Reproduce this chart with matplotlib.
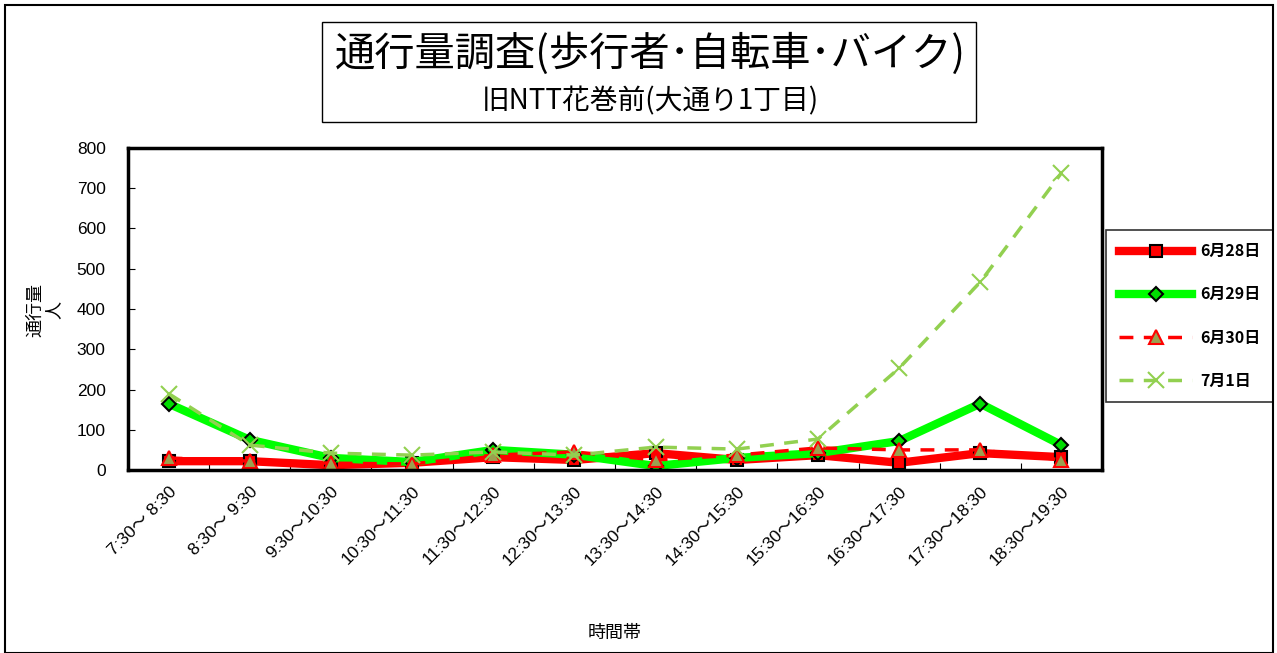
import numpy as np
import matplotlib.pyplot as plt
from matplotlib.patches import Rectangle

plt.rcParams['font.family'] = ['Noto Sans CJK JP', 'DejaVu Sans']
num_font = ['Liberation Sans', 'Noto Sans CJK JP']

# 時間帯
jikan = ['7:30～ 8:30', '8:30～ 9:30', '9:30～10:30', '10:30～11:30',
         '11:30～12:30', '12:30～13:30', '13:30～14:30', '14:30～15:30',
         '15:30～16:30', '16:30～17:30', '17:30～18:30', '18:30～19:30']

# 通行量 (人)
d0628 = [22, 22, 12, 18, 32, 25, 42, 25, 37, 18, 42, 32]
d0629 = [165, 75, 30, 20, 50, 38, 10, 30, 42, 72, 165, 62]
d0630 = [30, 22, 17, 15, 37, 45, 25, 37, 55, 50, 50, 25]
d0701 = [190, 62, 42, 37, 45, 37, 57, 52, 77, 253, 467, 738]

fig = plt.figure(figsize=(12.77, 6.53), dpi=100)
ax = fig.add_axes([0.1002, 0.2802, 0.7628, 0.4932])

x = np.arange(len(jikan))

ax.plot(x, d0628, color='red', lw=6, marker='s', ms=9,
        mfc='red', mec='black', mew=1.5, label='6月28日')
ax.plot(x, d0629, color='#00FF00', lw=6, marker='D', ms=7,
        mfc='#00DD00', mec='black', mew=1.5, label='6月29日')
ax.plot(x, d0630, color='red', lw=2.5, ls=(0, (4, 3)), marker='^', ms=10,
        mfc='#9BA050', mec='red', mew=1.5, label='6月30日')
ax.plot(x, d0701, color='#92D050', lw=2.5, ls=(0, (4, 3)), marker='x', ms=11,
        mew=1.5, label='7月1日')

ax.set_xlim(-0.5, len(jikan) - 0.5)
ax.set_ylim(0, 800)
ax.set_yticks(range(0, 801, 100))
ax.tick_params(axis='y', direction='in', length=5, pad=16)
for t in ax.get_yticklabels():
    t.set_family(num_font)
    t.set_fontsize(12.5)

# 目盛り線は区切り位置、ラベルは中央
ax.set_xticks(np.arange(-0.5, len(jikan), 1))
ax.set_xticklabels([])
ax.tick_params(axis='x', which='major', direction='in', length=5)
ax.set_xticks(x, minor=True)
ax.set_xticklabels(jikan, minor=True, rotation=45, ha='right',
                   rotation_mode='anchor', fontsize=12.5, family=num_font)
ax.tick_params(axis='x', which='minor', length=0, pad=10)

for s in ax.spines.values():
    s.set_linewidth(2.5)

ax.set_xlabel('時間帯', fontsize=13, labelpad=40)
fig.text(0.035, 0.525, '通行量\n人', rotation=90, ha='center', va='center',
         fontsize=13, linespacing=1.0)

leg = ax.legend(loc='center left', bbox_to_anchor=(1106 / 1277, 1 - 316 / 653),
                bbox_transform=fig.transFigure, fontsize=11.5, frameon=True,
                fancybox=False, edgecolor='black', handlelength=4.6,
                labelspacing=1.7, borderpad=0.8, handletextpad=0.5,
                borderaxespad=0)
leg.get_frame().set_linewidth(1.2)
for t in leg.get_texts():
    t.set_fontweight('bold')

# タイトル枠
fig.patches.append(Rectangle((322 / 1277, 1 - 122 / 653), 654 / 1277, 100 / 653,
                             transform=fig.transFigure, fill=False,
                             edgecolor='black', lw=1))
fig.text(0.509, 1 - 54 / 653, '通行量調査(歩行者･自転車･バイク)', ha='center',
         va='center', fontsize=29)
fig.text(0.509, 1 - 101 / 653, '旧NTT花巻前(大通り1丁目)', ha='center',
         va='center', fontsize=20)

# 外枠
fig.patches.append(Rectangle((5 / 1277, 0), 1268 / 1277, 648 / 653,
                             transform=fig.transFigure, fill=False,
                             edgecolor='black', lw=1.5))

fig.savefig('out.png', dpi=100)
